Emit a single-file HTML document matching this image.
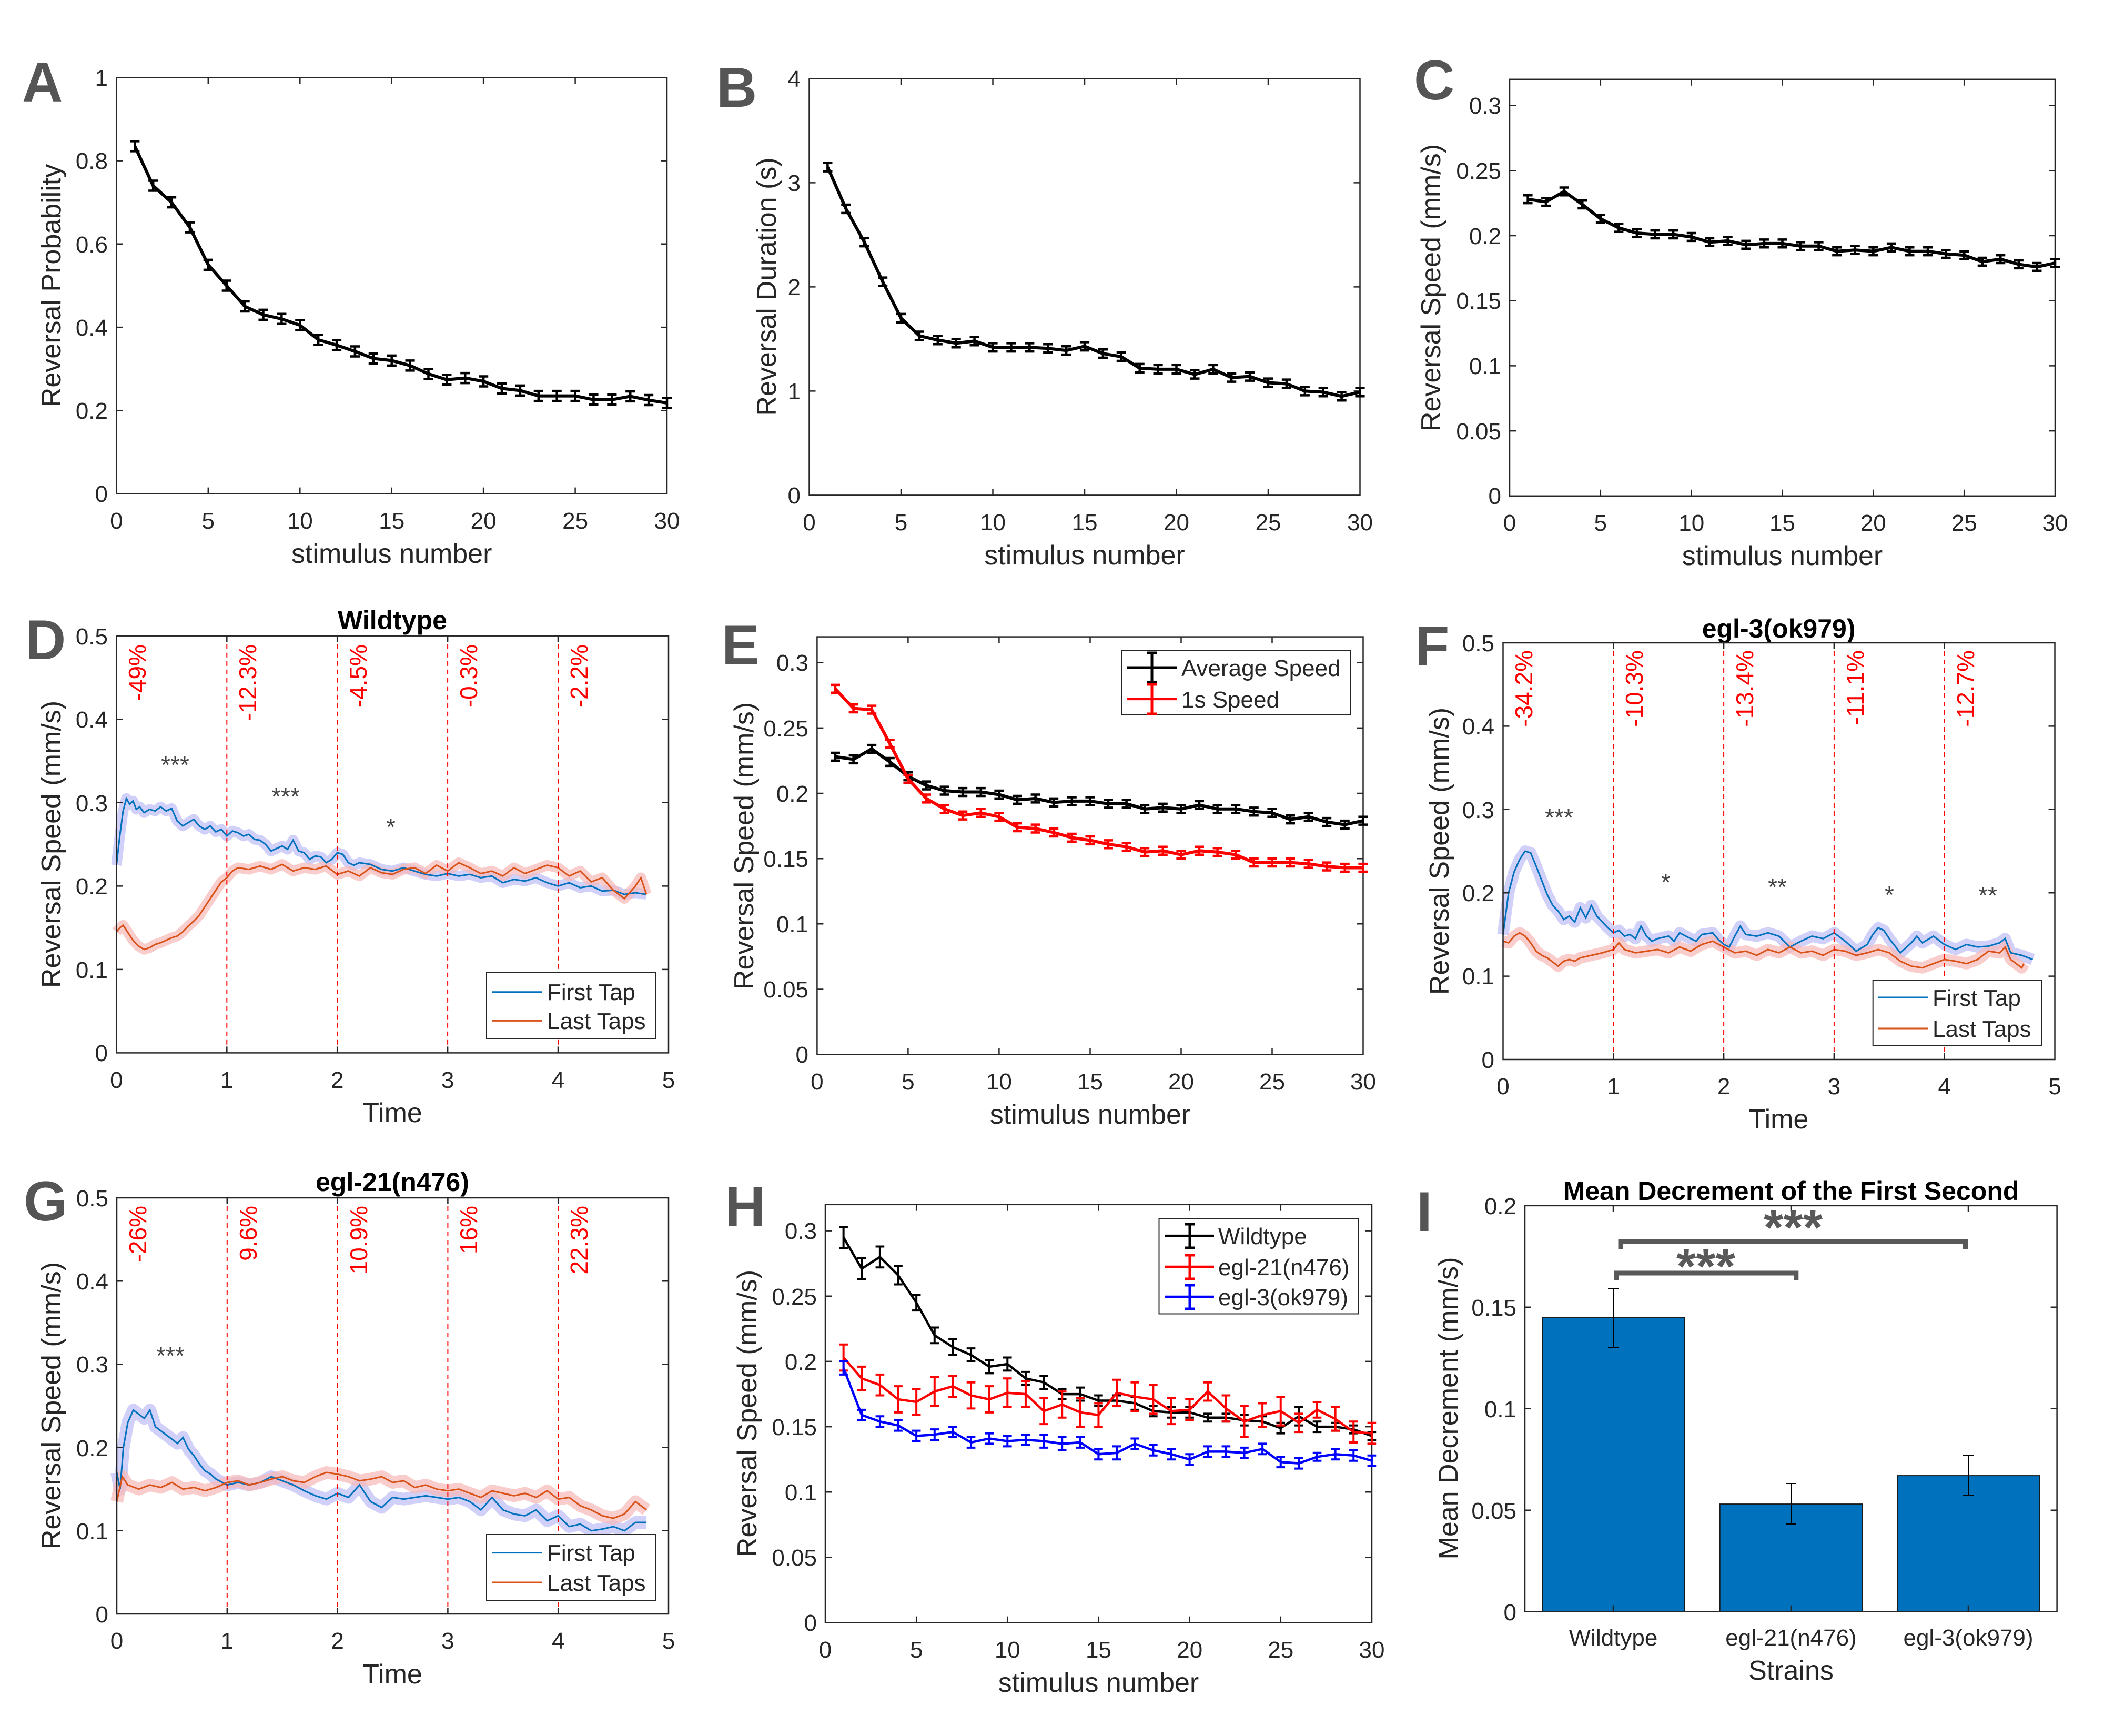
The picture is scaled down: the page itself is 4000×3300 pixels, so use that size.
<!DOCTYPE html>
<html><head><meta charset="utf-8"><style>
html,body{margin:0;padding:0;background:#fff}
svg{display:block}
text{font-family:"Liberation Sans",Arial,sans-serif}
.t{font-size:44px;fill:#262626}
.lab{font-size:52px;fill:#262626}
.ttl{font-size:50px;font-weight:bold;fill:#000}
.let{font-size:107px;font-weight:bold;fill:#555}
.pct{font-size:46px;fill:#f00}
.st{font-size:46px;fill:#444}
.ax{fill:none;stroke:#262626;stroke-width:2.5}
.ns{vector-effect:non-scaling-stroke;fill:none}
</style></head><body>
<svg width="4000" height="3300" xmlns="http://www.w3.org/2000/svg">
<rect width="4000" height="3300" fill="#fff"/>

<!-- ================= A ================= -->
<text class="let" x="42" y="193">A</text>
<rect class="ax" x="221.4" y="147.3" width="1046.6" height="791.3"/>
<path class="ax" d="M221.4,780.3h12M1268,780.3h-12M221.4,622.1h12M1268,622.1h-12M221.4,463.8h12M1268,463.8h-12M221.4,305.6h12M1268,305.6h-12M395.8,938.6v-12M395.8,147.3v12M570.3,938.6v-12M570.3,147.3v12M744.7,938.6v-12M744.7,147.3v12M919.1,938.6v-12M919.1,147.3v12M1093.6,938.6v-12M1093.6,147.3v12"/>
<g class="t" text-anchor="end"><text x="205" y="954">0</text><text x="205" y="796">0.2</text><text x="205" y="638">0.4</text><text x="205" y="480">0.6</text><text x="205" y="321">0.8</text><text x="205" y="163">1</text></g>
<g class="t" text-anchor="middle"><text x="221.4" y="1005">0</text><text x="395.8" y="1005">5</text><text x="570.3" y="1005">10</text><text x="744.7" y="1005">15</text><text x="919.1" y="1005">20</text><text x="1093.6" y="1005">25</text><text x="1268" y="1005">30</text></g>
<text class="lab" x="744.7" y="1070" text-anchor="middle">stimulus number</text>
<text class="lab" transform="translate(98,543) rotate(-90)" text-anchor="middle" dominant-baseline="central">Reversal Probability</text>
<g transform="translate(221.4,938.6) scale(34.887,-791.3)">
<polyline class="ns" stroke="#000" stroke-width="6" points="1,.835 2,.74 3,.70 4,.64 5,.55 6,.50 7,.45 8,.43 9,.42 10,.405 11,.37 12,.357 13,.342 14,.325 15,.32 16,.308 17,.288 18,.274 19,.278 20,.27 21,.253 22,.248 23,.235 24,.235 25,.235 26,.226 27,.226 28,.234 29,.225 30,.218"/>
<path class="ns" stroke="#000" stroke-width="4.5" d="M1,.835m-.26,.012h.52m-.26,0v-.024m-.26,0h.52M2,.74m-.26,.012h.52m-.26,0v-.024m-.26,0h.52M3,.70m-.26,.012h.52m-.26,0v-.024m-.26,0h.52M4,.64m-.26,.012h.52m-.26,0v-.024m-.26,0h.52M5,.55m-.26,.012h.52m-.26,0v-.024m-.26,0h.52M6,.50m-.26,.012h.52m-.26,0v-.024m-.26,0h.52M7,.45m-.26,.012h.52m-.26,0v-.024m-.26,0h.52M8,.43m-.26,.012h.52m-.26,0v-.024m-.26,0h.52M9,.42m-.26,.012h.52m-.26,0v-.024m-.26,0h.52M10,.405m-.26,.012h.52m-.26,0v-.024m-.26,0h.52M11,.37m-.26,.012h.52m-.26,0v-.024m-.26,0h.52M12,.357m-.26,.012h.52m-.26,0v-.024m-.26,0h.52M13,.342m-.26,.012h.52m-.26,0v-.024m-.26,0h.52M14,.325m-.26,.012h.52m-.26,0v-.024m-.26,0h.52M15,.32m-.26,.012h.52m-.26,0v-.024m-.26,0h.52M16,.308m-.26,.012h.52m-.26,0v-.024m-.26,0h.52M17,.288m-.26,.012h.52m-.26,0v-.024m-.26,0h.52M18,.274m-.26,.012h.52m-.26,0v-.024m-.26,0h.52M19,.278m-.26,.012h.52m-.26,0v-.024m-.26,0h.52M20,.27m-.26,.012h.52m-.26,0v-.024m-.26,0h.52M21,.253m-.26,.012h.52m-.26,0v-.024m-.26,0h.52M22,.248m-.26,.012h.52m-.26,0v-.024m-.26,0h.52M23,.235m-.26,.012h.52m-.26,0v-.024m-.26,0h.52M24,.235m-.26,.012h.52m-.26,0v-.024m-.26,0h.52M25,.235m-.26,.012h.52m-.26,0v-.024m-.26,0h.52M26,.226m-.26,.012h.52m-.26,0v-.024m-.26,0h.52M27,.226m-.26,.012h.52m-.26,0v-.024m-.26,0h.52M28,.234m-.26,.012h.52m-.26,0v-.024m-.26,0h.52M29,.225m-.26,.012h.52m-.26,0v-.024m-.26,0h.52M30,.218m-.26,.012h.52m-.26,0v-.024m-.26,0h.52"/>
</g>

<!-- ================= B ================= -->
<text class="let" x="1362" y="203">B</text>
<rect class="ax" x="1538.5" y="149.4" width="1047" height="792"/>
<path class="ax" d="M1538.5,743.4h12M2585.5,743.4h-12M1538.5,545.4h12M2585.5,545.4h-12M1538.5,347.4h12M2585.5,347.4h-12M1713,941.4v-12M1713,149.4v12M1887.5,941.4v-12M1887.5,149.4v12M2062,941.4v-12M2062,149.4v12M2236.5,941.4v-12M2236.5,149.4v12M2411,941.4v-12M2411,149.4v12"/>
<g class="t" text-anchor="end"><text x="1522" y="957">0</text><text x="1522" y="759">1</text><text x="1522" y="561">2</text><text x="1522" y="363">3</text><text x="1522" y="165">4</text></g>
<g class="t" text-anchor="middle"><text x="1538.5" y="1008">0</text><text x="1713" y="1008">5</text><text x="1887.5" y="1008">10</text><text x="2062" y="1008">15</text><text x="2236.5" y="1008">20</text><text x="2411" y="1008">25</text><text x="2585.5" y="1008">30</text></g>
<text class="lab" x="2062" y="1073" text-anchor="middle">stimulus number</text>
<text class="lab" transform="translate(1458,545) rotate(-90)" text-anchor="middle" dominant-baseline="central">Reversal Duration (s)</text>
<g transform="translate(1538.5,941.4) scale(34.9,-198)">
<polyline class="ns" stroke="#000" stroke-width="6" points="1,3.15 2,2.75 3,2.43 4,2.05 5,1.7 6,1.53 7,1.49 8,1.46 9,1.48 10,1.42 11,1.42 12,1.42 13,1.41 14,1.39 15,1.43 16,1.36 17,1.33 18,1.22 19,1.21 20,1.21 21,1.16 22,1.21 23,1.13 24,1.14 25,1.08 26,1.07 27,1.0 28,0.99 29,0.95 30,0.99"/>
<path class="ns" stroke="#000" stroke-width="4.5" d="M1,3.15m-.26,.04h.52m-.26,0v-.08m-.26,0h.52M2,2.75m-.26,.04h.52m-.26,0v-.08m-.26,0h.52M3,2.43m-.26,.04h.52m-.26,0v-.08m-.26,0h.52M4,2.05m-.26,.04h.52m-.26,0v-.08m-.26,0h.52M5,1.7m-.26,.04h.52m-.26,0v-.08m-.26,0h.52M6,1.53m-.26,.04h.52m-.26,0v-.08m-.26,0h.52M7,1.49m-.26,.04h.52m-.26,0v-.08m-.26,0h.52M8,1.46m-.26,.04h.52m-.26,0v-.08m-.26,0h.52M9,1.48m-.26,.04h.52m-.26,0v-.08m-.26,0h.52M10,1.42m-.26,.04h.52m-.26,0v-.08m-.26,0h.52M11,1.42m-.26,.04h.52m-.26,0v-.08m-.26,0h.52M12,1.42m-.26,.04h.52m-.26,0v-.08m-.26,0h.52M13,1.41m-.26,.04h.52m-.26,0v-.08m-.26,0h.52M14,1.39m-.26,.04h.52m-.26,0v-.08m-.26,0h.52M15,1.43m-.26,.04h.52m-.26,0v-.08m-.26,0h.52M16,1.36m-.26,.04h.52m-.26,0v-.08m-.26,0h.52M17,1.33m-.26,.04h.52m-.26,0v-.08m-.26,0h.52M18,1.22m-.26,.04h.52m-.26,0v-.08m-.26,0h.52M19,1.21m-.26,.04h.52m-.26,0v-.08m-.26,0h.52M20,1.21m-.26,.04h.52m-.26,0v-.08m-.26,0h.52M21,1.16m-.26,.04h.52m-.26,0v-.08m-.26,0h.52M22,1.21m-.26,.04h.52m-.26,0v-.08m-.26,0h.52M23,1.13m-.26,.04h.52m-.26,0v-.08m-.26,0h.52M24,1.14m-.26,.04h.52m-.26,0v-.08m-.26,0h.52M25,1.08m-.26,.04h.52m-.26,0v-.08m-.26,0h.52M26,1.07m-.26,.04h.52m-.26,0v-.08m-.26,0h.52M27,1.0m-.26,.04h.52m-.26,0v-.08m-.26,0h.52M28,.99m-.26,.04h.52m-.26,0v-.08m-.26,0h.52M29,.95m-.26,.04h.52m-.26,0v-.08m-.26,0h.52M30,.99m-.26,.04h.52m-.26,0v-.08m-.26,0h.52"/>
</g>

<!-- ================= C ================= -->
<text class="let" x="2688" y="189">C</text>
<rect class="ax" x="2870" y="150.8" width="1037" height="792"/>
<path class="ax" d="M2870,819.1h12M3907,819.1h-12M2870,695.4h12M3907,695.4h-12M2870,571.7h12M3907,571.7h-12M2870,448h12M3907,448h-12M2870,324.3h12M3907,324.3h-12M2870,200.6h12M3907,200.6h-12M3042.8,942.8v-12M3042.8,150.8v12M3215.7,942.8v-12M3215.7,150.8v12M3388.5,942.8v-12M3388.5,150.8v12M3561.3,942.8v-12M3561.3,150.8v12M3734.2,942.8v-12M3734.2,150.8v12"/>
<g class="t" text-anchor="end"><text x="2854" y="958">0</text><text x="2854" y="835">0.05</text><text x="2854" y="711">0.1</text><text x="2854" y="587">0.15</text><text x="2854" y="464">0.2</text><text x="2854" y="340">0.25</text><text x="2854" y="216">0.3</text></g>
<g class="t" text-anchor="middle"><text x="2870" y="1009">0</text><text x="3042.8" y="1009">5</text><text x="3215.7" y="1009">10</text><text x="3388.5" y="1009">15</text><text x="3561.3" y="1009">20</text><text x="3734.2" y="1009">25</text><text x="3907" y="1009">30</text></g>
<text class="lab" x="3388.5" y="1074" text-anchor="middle">stimulus number</text>
<text class="lab" transform="translate(2721,547) rotate(-90)" text-anchor="middle" dominant-baseline="central">Reversal Speed (mm/s)</text>
<g transform="translate(2870,942.8) scale(34.567,-2474)">
<polyline class="ns" stroke="#000" stroke-width="6" points="1,.228 2,.226 3,.234 4,.224 5,.213 6,.206 7,.202 8,.201 9,.201 10,.199 11,.195 12,.196 13,.193 14,.194 15,.194 16,.192 17,.192 18,.188 19,.189 20,.188 21,.191 22,.188 23,.188 24,.186 25,.185 26,.180 27,.182 28,.178 29,.176 30,.179"/>
<path class="ns" stroke="#000" stroke-width="4.5" d="M1,.228m-.26,.003h.52m-.26,0v-.006m-.26,0h.52M2,.226m-.26,.003h.52m-.26,0v-.006m-.26,0h.52M3,.234m-.26,.003h.52m-.26,0v-.006m-.26,0h.52M4,.224m-.26,.003h.52m-.26,0v-.006m-.26,0h.52M5,.213m-.26,.003h.52m-.26,0v-.006m-.26,0h.52M6,.206m-.26,.003h.52m-.26,0v-.006m-.26,0h.52M7,.202m-.26,.003h.52m-.26,0v-.006m-.26,0h.52M8,.201m-.26,.003h.52m-.26,0v-.006m-.26,0h.52M9,.201m-.26,.003h.52m-.26,0v-.006m-.26,0h.52M10,.199m-.26,.003h.52m-.26,0v-.006m-.26,0h.52M11,.195m-.26,.003h.52m-.26,0v-.006m-.26,0h.52M12,.196m-.26,.003h.52m-.26,0v-.006m-.26,0h.52M13,.193m-.26,.003h.52m-.26,0v-.006m-.26,0h.52M14,.194m-.26,.003h.52m-.26,0v-.006m-.26,0h.52M15,.194m-.26,.003h.52m-.26,0v-.006m-.26,0h.52M16,.192m-.26,.003h.52m-.26,0v-.006m-.26,0h.52M17,.192m-.26,.003h.52m-.26,0v-.006m-.26,0h.52M18,.188m-.26,.003h.52m-.26,0v-.006m-.26,0h.52M19,.189m-.26,.003h.52m-.26,0v-.006m-.26,0h.52M20,.188m-.26,.003h.52m-.26,0v-.006m-.26,0h.52M21,.191m-.26,.003h.52m-.26,0v-.006m-.26,0h.52M22,.188m-.26,.003h.52m-.26,0v-.006m-.26,0h.52M23,.188m-.26,.003h.52m-.26,0v-.006m-.26,0h.52M24,.186m-.26,.003h.52m-.26,0v-.006m-.26,0h.52M25,.185m-.26,.003h.52m-.26,0v-.006m-.26,0h.52M26,.180m-.26,.003h.52m-.26,0v-.006m-.26,0h.52M27,.182m-.26,.003h.52m-.26,0v-.006m-.26,0h.52M28,.178m-.26,.003h.52m-.26,0v-.006m-.26,0h.52M29,.176m-.26,.003h.52m-.26,0v-.006m-.26,0h.52M30,.179m-.26,.003h.52m-.26,0v-.006m-.26,0h.52"/>
</g>

<!-- ================= D ================= -->
<text class="let" x="48" y="1253">D</text>
<text class="ttl" x="746" y="1196" text-anchor="middle">Wildtype</text>
<g transform="translate(221.4,2001.4) scale(209.9,-1585.4)">
<polyline class="ns" stroke="#c8c8f8" stroke-opacity=".85" stroke-width="20" stroke-linejoin="round" points="0,.225 .03,.26 .06,.29 .09,.305 .12,.298 .15,.302 .18,.292 .21,.295 .25,.288 .3,.292 .35,.29 .4,.295 .45,.29 .5,.293 .55,.278 .6,.272 .65,.276 .7,.28 .75,.272 .8,.268 .85,.272 .9,.265 .95,.268 1,.26 1.05,.266 1.1,.264 1.15,.26 1.2,.262 1.25,.256 1.3,.255 1.35,.25 1.4,.242 1.45,.245 1.5,.248 1.55,.244 1.6,.255 1.65,.242 1.7,.24 1.75,.232 1.8,.236 1.85,.235 1.9,.228 1.95,.232 2,.24 2.05,.238 2.1,.228 2.15,.225 2.2,.228 2.3,.226 2.4,.22 2.5,.218 2.6,.222 2.7,.218 2.8,.214 2.9,.212 3,.215 3.1,.212 3.2,.214 3.3,.21 3.4,.212 3.5,.204 3.6,.208 3.7,.206 3.8,.21 3.9,.204 4,.2 4.1,.204 4.2,.198 4.3,.2 4.4,.194 4.5,.195 4.6,.19 4.7,.192 4.8,.19"/>
<polyline class="ns" stroke="#f8b8b8" stroke-opacity=".7" stroke-width="20" stroke-linejoin="round" points="0,.145 .03,.15 .06,.153 .1,.145 .15,.135 .2,.128 .25,.124 .3,.126 .35,.13 .4,.132 .45,.135 .5,.138 .55,.14 .6,.145 .65,.152 .7,.158 .75,.165 .8,.175 .85,.185 .9,.195 .95,.205 1,.21 1.05,.218 1.1,.222 1.2,.22 1.3,.224 1.4,.22 1.5,.226 1.6,.218 1.7,.222 1.8,.22 1.9,.224 2,.214 2.1,.218 2.2,.212 2.3,.222 2.4,.216 2.5,.214 2.6,.22 2.7,.222 2.8,.215 2.9,.225 3,.218 3.1,.228 3.2,.222 3.3,.215 3.4,.218 3.5,.212 3.6,.222 3.7,.215 3.8,.22 3.9,.225 4,.222 4.1,.212 4.2,.218 4.3,.205 4.4,.21 4.5,.195 4.6,.185 4.7,.2 4.75,.21 4.8,.19"/>
<polyline class="ns" stroke="#0072BD" stroke-width="3" points="0,.225 .03,.26 .06,.29 .09,.305 .12,.298 .15,.302 .18,.292 .21,.295 .25,.288 .3,.292 .35,.29 .4,.295 .45,.29 .5,.293 .55,.278 .6,.272 .65,.276 .7,.28 .75,.272 .8,.268 .85,.272 .9,.265 .95,.268 1,.26 1.05,.266 1.1,.264 1.15,.26 1.2,.262 1.25,.256 1.3,.255 1.35,.25 1.4,.242 1.45,.245 1.5,.248 1.55,.244 1.6,.255 1.65,.242 1.7,.24 1.75,.232 1.8,.236 1.85,.235 1.9,.228 1.95,.232 2,.24 2.05,.238 2.1,.228 2.15,.225 2.2,.228 2.3,.226 2.4,.22 2.5,.218 2.6,.222 2.7,.218 2.8,.214 2.9,.212 3,.215 3.1,.212 3.2,.214 3.3,.21 3.4,.212 3.5,.204 3.6,.208 3.7,.206 3.8,.21 3.9,.204 4,.2 4.1,.204 4.2,.198 4.3,.2 4.4,.194 4.5,.195 4.6,.19 4.7,.192 4.8,.19"/>
<polyline class="ns" stroke="#D95319" stroke-width="3" points="0,.145 .03,.15 .06,.153 .1,.145 .15,.135 .2,.128 .25,.124 .3,.126 .35,.13 .4,.132 .45,.135 .5,.138 .55,.14 .6,.145 .65,.152 .7,.158 .75,.165 .8,.175 .85,.185 .9,.195 .95,.205 1,.21 1.05,.218 1.1,.222 1.2,.22 1.3,.224 1.4,.22 1.5,.226 1.6,.218 1.7,.222 1.8,.22 1.9,.224 2,.214 2.1,.218 2.2,.212 2.3,.222 2.4,.216 2.5,.214 2.6,.22 2.7,.222 2.8,.215 2.9,.225 3,.218 3.1,.228 3.2,.222 3.3,.215 3.4,.218 3.5,.212 3.6,.222 3.7,.215 3.8,.22 3.9,.225 4,.222 4.1,.212 4.2,.218 4.3,.205 4.4,.21 4.5,.195 4.6,.185 4.7,.2 4.75,.21 4.8,.19"/>
</g>
<path d="M221.4,1208.7V2001.4M431.3,1208.7V2001.4M641.2,1208.7V2001.4M851.1,1208.7V2001.4M1061,1208.7V2001.4" stroke="#f00" stroke-width="2" stroke-dasharray="9,7" fill="none"/>
<rect class="ax" x="221.4" y="1208.7" width="1049.6" height="792.7"/>
<path class="ax" d="M221.4,1842.9h12M1271,1842.9h-12M221.4,1684.4h12M1271,1684.4h-12M221.4,1525.8h12M1271,1525.8h-12M221.4,1367.3h12M1271,1367.3h-12M431.3,2001.4v-12M431.3,1208.7v12M641.2,2001.4v-12M641.2,1208.7v12M851.1,2001.4v-12M851.1,1208.7v12M1061,2001.4v-12M1061,1208.7v12"/>
<g class="t" text-anchor="end"><text x="205" y="2017">0</text><text x="205" y="1859">0.1</text><text x="205" y="1700">0.2</text><text x="205" y="1542">0.3</text><text x="205" y="1383">0.4</text><text x="205" y="1225">0.5</text></g>
<g class="t" text-anchor="middle"><text x="221.4" y="2068">0</text><text x="431.3" y="2068">1</text><text x="641.2" y="2068">2</text><text x="851.1" y="2068">3</text><text x="1061" y="2068">4</text><text x="1271" y="2068">5</text></g>
<text class="lab" x="746" y="2133" text-anchor="middle">Time</text>
<text class="lab" transform="translate(98,1605) rotate(-90)" text-anchor="middle" dominant-baseline="central">Reversal Speed (mm/s)</text>
<g class="pct" text-anchor="end" dominant-baseline="central"><text transform="translate(261,1225) rotate(-90)">-49%</text><text transform="translate(471,1225) rotate(-90)">-12.3%</text><text transform="translate(681,1225) rotate(-90)">-4.5%</text><text transform="translate(891,1225) rotate(-90)">-0.3%</text><text transform="translate(1101,1225) rotate(-90)">-2.2%</text></g>
<g class="st" text-anchor="middle"><text x="333" y="1470">***</text><text x="543" y="1530">***</text><text x="743" y="1588">*</text></g>
<rect x="925" y="1849" width="321" height="125" fill="#fff" stroke="#262626" stroke-width="2"/>
<path d="M936,1885.7h95" stroke="#0072BD" stroke-width="3"/><path d="M936,1940.4h95" stroke="#D95319" stroke-width="3"/>
<g class="t"><text x="1040" y="1901">First Tap</text><text x="1040" y="1956">Last Taps</text></g>

<!-- ================= E ================= -->
<text class="let" x="1372" y="1263">E</text>
<rect class="ax" x="1553.4" y="1210.6" width="1038.1" height="794"/>
<path class="ax" d="M1553.4,1880.5h12M2591.5,1880.5h-12M1553.4,1756.3h12M2591.5,1756.3h-12M1553.4,1632.2h12M2591.5,1632.2h-12M1553.4,1508h12M2591.5,1508h-12M1553.4,1383.9h12M2591.5,1383.9h-12M1553.4,1259.7h12M2591.5,1259.7h-12M1726.4,2004.6v-12M1726.4,1210.6v12M1899.4,2004.6v-12M1899.4,1210.6v12M2072.5,2004.6v-12M2072.5,1210.6v12M2245.5,2004.6v-12M2245.5,1210.6v12M2418.5,2004.6v-12M2418.5,1210.6v12"/>
<g class="t" text-anchor="end"><text x="1537" y="2020">0</text><text x="1537" y="1896">0.05</text><text x="1537" y="1772">0.1</text><text x="1537" y="1648">0.15</text><text x="1537" y="1524">0.2</text><text x="1537" y="1400">0.25</text><text x="1537" y="1275">0.3</text></g>
<g class="t" text-anchor="middle"><text x="1553.4" y="2071">0</text><text x="1726.4" y="2071">5</text><text x="1899.4" y="2071">10</text><text x="2072.5" y="2071">15</text><text x="2245.5" y="2071">20</text><text x="2418.5" y="2071">25</text><text x="2591.5" y="2071">30</text></g>
<text class="lab" x="2072.5" y="2136" text-anchor="middle">stimulus number</text>
<text class="lab" transform="translate(1415,1608) rotate(-90)" text-anchor="middle" dominant-baseline="central">Reversal Speed (mm/s)</text>
<g transform="translate(1553.4,2004.6) scale(34.6,-2483)">
<polyline class="ns" stroke="#000" stroke-width="6" points="1,.228 2,.226 3,.234 4,.224 5,.213 6,.206 7,.202 8,.201 9,.201 10,.199 11,.195 12,.196 13,.193 14,.194 15,.194 16,.192 17,.192 18,.188 19,.189 20,.188 21,.191 22,.188 23,.188 24,.186 25,.185 26,.180 27,.182 28,.178 29,.176 30,.179"/>
<path class="ns" stroke="#000" stroke-width="4.5" d="M1,.228m-.26,.003h.52m-.26,0v-.006m-.26,0h.52M2,.226m-.26,.003h.52m-.26,0v-.006m-.26,0h.52M3,.234m-.26,.003h.52m-.26,0v-.006m-.26,0h.52M4,.224m-.26,.003h.52m-.26,0v-.006m-.26,0h.52M5,.213m-.26,.003h.52m-.26,0v-.006m-.26,0h.52M6,.206m-.26,.003h.52m-.26,0v-.006m-.26,0h.52M7,.202m-.26,.003h.52m-.26,0v-.006m-.26,0h.52M8,.201m-.26,.003h.52m-.26,0v-.006m-.26,0h.52M9,.201m-.26,.003h.52m-.26,0v-.006m-.26,0h.52M10,.199m-.26,.003h.52m-.26,0v-.006m-.26,0h.52M11,.195m-.26,.003h.52m-.26,0v-.006m-.26,0h.52M12,.196m-.26,.003h.52m-.26,0v-.006m-.26,0h.52M13,.193m-.26,.003h.52m-.26,0v-.006m-.26,0h.52M14,.194m-.26,.003h.52m-.26,0v-.006m-.26,0h.52M15,.194m-.26,.003h.52m-.26,0v-.006m-.26,0h.52M16,.192m-.26,.003h.52m-.26,0v-.006m-.26,0h.52M17,.192m-.26,.003h.52m-.26,0v-.006m-.26,0h.52M18,.188m-.26,.003h.52m-.26,0v-.006m-.26,0h.52M19,.189m-.26,.003h.52m-.26,0v-.006m-.26,0h.52M20,.188m-.26,.003h.52m-.26,0v-.006m-.26,0h.52M21,.191m-.26,.003h.52m-.26,0v-.006m-.26,0h.52M22,.188m-.26,.003h.52m-.26,0v-.006m-.26,0h.52M23,.188m-.26,.003h.52m-.26,0v-.006m-.26,0h.52M24,.186m-.26,.003h.52m-.26,0v-.006m-.26,0h.52M25,.185m-.26,.003h.52m-.26,0v-.006m-.26,0h.52M26,.180m-.26,.003h.52m-.26,0v-.006m-.26,0h.52M27,.182m-.26,.003h.52m-.26,0v-.006m-.26,0h.52M28,.178m-.26,.003h.52m-.26,0v-.006m-.26,0h.52M29,.176m-.26,.003h.52m-.26,0v-.006m-.26,0h.52M30,.179m-.26,.003h.52m-.26,0v-.006m-.26,0h.52"/>
<polyline class="ns" stroke="#f00" stroke-width="6" points="1,.280 2,.265 3,.264 4,.238 5,.211 6,.196 7,.188 8,.183 9,.185 10,.182 11,.174 12,.173 13,.170 14,.166 15,.164 16,.161 17,.159 18,.155 19,.156 20,.153 21,.156 22,.155 23,.153 24,.147 25,.147 26,.147 27,.146 28,.144 29,.143 30,.143"/>
<path class="ns" stroke="#f00" stroke-width="4.5" d="M1,.280m-.26,.003h.52m-.26,0v-.006m-.26,0h.52M2,.265m-.26,.003h.52m-.26,0v-.006m-.26,0h.52M3,.264m-.26,.003h.52m-.26,0v-.006m-.26,0h.52M4,.238m-.26,.003h.52m-.26,0v-.006m-.26,0h.52M5,.211m-.26,.003h.52m-.26,0v-.006m-.26,0h.52M6,.196m-.26,.003h.52m-.26,0v-.006m-.26,0h.52M7,.188m-.26,.003h.52m-.26,0v-.006m-.26,0h.52M8,.183m-.26,.003h.52m-.26,0v-.006m-.26,0h.52M9,.185m-.26,.003h.52m-.26,0v-.006m-.26,0h.52M10,.182m-.26,.003h.52m-.26,0v-.006m-.26,0h.52M11,.174m-.26,.003h.52m-.26,0v-.006m-.26,0h.52M12,.173m-.26,.003h.52m-.26,0v-.006m-.26,0h.52M13,.170m-.26,.003h.52m-.26,0v-.006m-.26,0h.52M14,.166m-.26,.003h.52m-.26,0v-.006m-.26,0h.52M15,.164m-.26,.003h.52m-.26,0v-.006m-.26,0h.52M16,.161m-.26,.003h.52m-.26,0v-.006m-.26,0h.52M17,.159m-.26,.003h.52m-.26,0v-.006m-.26,0h.52M18,.155m-.26,.003h.52m-.26,0v-.006m-.26,0h.52M19,.156m-.26,.003h.52m-.26,0v-.006m-.26,0h.52M20,.153m-.26,.003h.52m-.26,0v-.006m-.26,0h.52M21,.156m-.26,.003h.52m-.26,0v-.006m-.26,0h.52M22,.155m-.26,.003h.52m-.26,0v-.006m-.26,0h.52M23,.153m-.26,.003h.52m-.26,0v-.006m-.26,0h.52M24,.147m-.26,.003h.52m-.26,0v-.006m-.26,0h.52M25,.147m-.26,.003h.52m-.26,0v-.006m-.26,0h.52M26,.147m-.26,.003h.52m-.26,0v-.006m-.26,0h.52M27,.146m-.26,.003h.52m-.26,0v-.006m-.26,0h.52M28,.144m-.26,.003h.52m-.26,0v-.006m-.26,0h.52M29,.143m-.26,.003h.52m-.26,0v-.006m-.26,0h.52M30,.143m-.26,.003h.52m-.26,0v-.006m-.26,0h.52"/>
</g>
<rect x="2132" y="1236" width="435" height="123" fill="#fff" stroke="#262626" stroke-width="2"/>
<path d="M2142,1269h95M2190,1241v56M2180,1241h20M2180,1297h20" stroke="#000" stroke-width="5" fill="none"/>
<path d="M2142,1328.6h95M2190,1301v56M2180,1301h20M2180,1357h20" stroke="#f00" stroke-width="5" fill="none"/>
<g class="t"><text x="2246" y="1285">Average Speed</text><text x="2246" y="1345">1s Speed</text></g>

<!-- ================= F ================= -->
<text class="let" x="2690" y="1265">F</text>
<text class="ttl" x="3381.6" y="1212" text-anchor="middle">egl-3(ok979)</text>
<g transform="translate(2857.5,2014) scale(209.8,-1584)">
<polyline class="ns" stroke="#c8c8f8" stroke-opacity=".85" stroke-width="22" stroke-linejoin="round" points="0,.15 .05,.2 .1,.225 .15,.24 .2,.25 .25,.248 .3,.232 .35,.215 .4,.198 .45,.185 .5,.178 .55,.168 .6,.172 .65,.165 .7,.182 .75,.17 .8,.185 .85,.172 .9,.165 .95,.158 1,.152 1.05,.155 1.1,.148 1.15,.15 1.2,.145 1.25,.16 1.3,.148 1.35,.142 1.4,.145 1.5,.148 1.55,.142 1.6,.152 1.7,.145 1.75,.142 1.8,.15 1.9,.152 1.95,.144 2,.138 2.05,.135 2.1,.148 2.15,.16 2.2,.15 2.3,.148 2.4,.152 2.5,.148 2.6,.135 2.7,.142 2.8,.148 2.9,.145 3,.152 3.1,.142 3.2,.13 3.3,.138 3.35,.15 3.4,.158 3.45,.155 3.5,.145 3.6,.128 3.7,.14 3.75,.148 3.8,.14 3.9,.148 4,.138 4.1,.132 4.2,.138 4.3,.135 4.4,.136 4.5,.14 4.55,.145 4.6,.128 4.7,.125 4.8,.12"/>
<polyline class="ns" stroke="#f8b8b8" stroke-opacity=".7" stroke-width="22" stroke-linejoin="round" points="0,.142 .05,.14 .1,.148 .15,.152 .2,.148 .25,.14 .3,.13 .35,.125 .4,.122 .5,.112 .55,.118 .6,.12 .65,.118 .7,.122 .8,.125 .9,.128 1,.132 1.05,.14 1.1,.132 1.2,.128 1.3,.13 1.4,.132 1.5,.128 1.6,.135 1.7,.13 1.8,.138 1.9,.142 2,.135 2.1,.128 2.2,.13 2.3,.125 2.4,.132 2.5,.128 2.6,.135 2.7,.128 2.8,.13 2.9,.125 3,.132 3.1,.13 3.2,.125 3.3,.128 3.4,.132 3.5,.128 3.6,.118 3.7,.112 3.8,.11 3.9,.115 4,.12 4.1,.118 4.2,.115 4.3,.12 4.4,.13 4.5,.128 4.55,.135 4.6,.12 4.7,.11 4.72,.115"/>
<polyline class="ns" stroke="#0072BD" stroke-width="3" points="0,.15 .05,.2 .1,.225 .15,.24 .2,.25 .25,.248 .3,.232 .35,.215 .4,.198 .45,.185 .5,.178 .55,.168 .6,.172 .65,.165 .7,.182 .75,.17 .8,.185 .85,.172 .9,.165 .95,.158 1,.152 1.05,.155 1.1,.148 1.15,.15 1.2,.145 1.25,.16 1.3,.148 1.35,.142 1.4,.145 1.5,.148 1.55,.142 1.6,.152 1.7,.145 1.75,.142 1.8,.15 1.9,.152 1.95,.144 2,.138 2.05,.135 2.1,.148 2.15,.16 2.2,.15 2.3,.148 2.4,.152 2.5,.148 2.6,.135 2.7,.142 2.8,.148 2.9,.145 3,.152 3.1,.142 3.2,.13 3.3,.138 3.35,.15 3.4,.158 3.45,.155 3.5,.145 3.6,.128 3.7,.14 3.75,.148 3.8,.14 3.9,.148 4,.138 4.1,.132 4.2,.138 4.3,.135 4.4,.136 4.5,.14 4.55,.145 4.6,.128 4.7,.125 4.8,.12"/>
<polyline class="ns" stroke="#D95319" stroke-width="3" points="0,.142 .05,.14 .1,.148 .15,.152 .2,.148 .25,.14 .3,.13 .35,.125 .4,.122 .5,.112 .55,.118 .6,.12 .65,.118 .7,.122 .8,.125 .9,.128 1,.132 1.05,.14 1.1,.132 1.2,.128 1.3,.13 1.4,.132 1.5,.128 1.6,.135 1.7,.13 1.8,.138 1.9,.142 2,.135 2.1,.128 2.2,.13 2.3,.125 2.4,.132 2.5,.128 2.6,.135 2.7,.128 2.8,.13 2.9,.125 3,.132 3.1,.13 3.2,.125 3.3,.128 3.4,.132 3.5,.128 3.6,.118 3.7,.112 3.8,.11 3.9,.115 4,.12 4.1,.118 4.2,.115 4.3,.12 4.4,.13 4.5,.128 4.55,.135 4.6,.12 4.7,.11 4.72,.115"/>
</g>
<path d="M2857.5,1222V2014M3067.3,1222V2014M3277.1,1222V2014M3486.9,1222V2014M3696.7,1222V2014" stroke="#f00" stroke-width="2" stroke-dasharray="9,7" fill="none"/>
<rect class="ax" x="2857.5" y="1222" width="1049" height="792"/>
<path class="ax" d="M2857.5,1855.6h12M3906.5,1855.6h-12M2857.5,1697.2h12M3906.5,1697.2h-12M2857.5,1538.8h12M3906.5,1538.8h-12M2857.5,1380.4h12M3906.5,1380.4h-12M3067.3,2014v-12M3067.3,1222v12M3277.1,2014v-12M3277.1,1222v12M3486.9,2014v-12M3486.9,1222v12M3696.7,2014v-12M3696.7,1222v12"/>
<g class="t" text-anchor="end"><text x="2841" y="2030">0</text><text x="2841" y="1871">0.1</text><text x="2841" y="1713">0.2</text><text x="2841" y="1555">0.3</text><text x="2841" y="1396">0.4</text><text x="2841" y="1238">0.5</text></g>
<g class="t" text-anchor="middle"><text x="2857.5" y="2080">0</text><text x="3067.3" y="2080">1</text><text x="3277.1" y="2080">2</text><text x="3486.9" y="2080">3</text><text x="3696.7" y="2080">4</text><text x="3906.5" y="2080">5</text></g>
<text class="lab" x="3381.6" y="2145" text-anchor="middle">Time</text>
<text class="lab" transform="translate(2737,1618) rotate(-90)" text-anchor="middle" dominant-baseline="central">Reversal Speed (mm/s)</text>
<g class="pct" text-anchor="end" dominant-baseline="central"><text transform="translate(2897,1236) rotate(-90)">-34.2%</text><text transform="translate(3107,1236) rotate(-90)">-10.3%</text><text transform="translate(3317,1236) rotate(-90)">-13.4%</text><text transform="translate(3527,1236) rotate(-90)">-11.1%</text><text transform="translate(3737,1236) rotate(-90)">-12.7%</text></g>
<g class="st" text-anchor="middle"><text x="2964" y="1570">***</text><text x="3167" y="1693">*</text><text x="3379" y="1702">**</text><text x="3592" y="1717">*</text><text x="3779" y="1718">**</text></g>
<rect x="3560.7" y="1863" width="321" height="124" fill="#fff" stroke="#262626" stroke-width="2"/>
<path d="M3570.6,1896h95" stroke="#0072BD" stroke-width="3"/><path d="M3570.6,1955h95" stroke="#D95319" stroke-width="3"/>
<g class="t"><text x="3674" y="1912">First Tap</text><text x="3674" y="1971">Last Taps</text></g>

<!-- ================= G ================= -->
<text class="let" x="45" y="2320">G</text>
<text class="ttl" x="746" y="2264" text-anchor="middle">egl-21(n476)</text>
<g transform="translate(222,3068) scale(209.8,-1582)">
<polyline class="ns" stroke="#c8c8f8" stroke-opacity=".85" stroke-width="24" stroke-linejoin="round" points="0,.17 .03,.15 .06,.2 .1,.23 .15,.245 .2,.24 .25,.235 .3,.245 .35,.225 .4,.22 .45,.215 .5,.21 .55,.205 .6,.212 .65,.198 .7,.19 .75,.18 .8,.172 .85,.168 .9,.162 1,.155 1.1,.158 1.2,.155 1.3,.158 1.4,.165 1.5,.16 1.6,.155 1.7,.148 1.8,.142 1.9,.138 2,.145 2.1,.14 2.2,.155 2.3,.135 2.4,.128 2.5,.14 2.6,.138 2.7,.14 2.8,.142 2.9,.14 3,.138 3.1,.14 3.2,.135 3.3,.125 3.4,.14 3.5,.125 3.6,.12 3.7,.118 3.8,.125 3.9,.112 4,.118 4.1,.105 4.2,.108 4.3,.1 4.4,.102 4.5,.105 4.6,.1 4.7,.11 4.8,.11"/>
<polyline class="ns" stroke="#f8b8b8" stroke-opacity=".7" stroke-width="24" stroke-linejoin="round" points="0,.135 .05,.165 .1,.155 .2,.15 .3,.155 .4,.152 .5,.158 .6,.15 .7,.152 .8,.148 .9,.152 1,.158 1.1,.16 1.2,.155 1.3,.158 1.4,.162 1.5,.165 1.6,.16 1.7,.158 1.8,.165 1.9,.17 2,.168 2.1,.165 2.2,.16 2.3,.162 2.4,.165 2.5,.158 2.6,.16 2.7,.152 2.8,.155 2.9,.15 3,.148 3.1,.15 3.2,.145 3.3,.14 3.4,.148 3.5,.145 3.6,.142 3.7,.145 3.8,.14 3.9,.148 4,.138 4.1,.14 4.2,.13 4.3,.125 4.4,.118 4.5,.115 4.6,.12 4.7,.135 4.8,.125"/>
<polyline class="ns" stroke="#0072BD" stroke-width="3" points="0,.17 .03,.15 .06,.2 .1,.23 .15,.245 .2,.24 .25,.235 .3,.245 .35,.225 .4,.22 .45,.215 .5,.21 .55,.205 .6,.212 .65,.198 .7,.19 .75,.18 .8,.172 .85,.168 .9,.162 1,.155 1.1,.158 1.2,.155 1.3,.158 1.4,.165 1.5,.16 1.6,.155 1.7,.148 1.8,.142 1.9,.138 2,.145 2.1,.14 2.2,.155 2.3,.135 2.4,.128 2.5,.14 2.6,.138 2.7,.14 2.8,.142 2.9,.14 3,.138 3.1,.14 3.2,.135 3.3,.125 3.4,.14 3.5,.125 3.6,.12 3.7,.118 3.8,.125 3.9,.112 4,.118 4.1,.105 4.2,.108 4.3,.1 4.4,.102 4.5,.105 4.6,.1 4.7,.11 4.8,.11"/>
<polyline class="ns" stroke="#D95319" stroke-width="3" points="0,.135 .05,.165 .1,.155 .2,.15 .3,.155 .4,.152 .5,.158 .6,.15 .7,.152 .8,.148 .9,.152 1,.158 1.1,.16 1.2,.155 1.3,.158 1.4,.162 1.5,.165 1.6,.16 1.7,.158 1.8,.165 1.9,.17 2,.168 2.1,.165 2.2,.16 2.3,.162 2.4,.165 2.5,.158 2.6,.16 2.7,.152 2.8,.155 2.9,.15 3,.148 3.1,.15 3.2,.145 3.3,.14 3.4,.148 3.5,.145 3.6,.142 3.7,.145 3.8,.14 3.9,.148 4,.138 4.1,.14 4.2,.13 4.3,.125 4.4,.118 4.5,.115 4.6,.12 4.7,.135 4.8,.125"/>
</g>
<path d="M222,2277V3068M431.8,2277V3068M641.6,2277V3068M851.4,2277V3068M1061.2,2277V3068" stroke="#f00" stroke-width="2" stroke-dasharray="9,7" fill="none"/>
<rect class="ax" x="222" y="2277" width="1049" height="791"/>
<path class="ax" d="M222,2909.8h12M1271,2909.8h-12M222,2751.6h12M1271,2751.6h-12M222,2593.4h12M1271,2593.4h-12M222,2435.2h12M1271,2435.2h-12M431.8,3068v-12M431.8,2277v12M641.6,3068v-12M641.6,2277v12M851.4,3068v-12M851.4,2277v12M1061.2,3068v-12M1061.2,2277v12"/>
<g class="t" text-anchor="end"><text x="206" y="3084">0</text><text x="206" y="2926">0.1</text><text x="206" y="2768">0.2</text><text x="206" y="2609">0.3</text><text x="206" y="2451">0.4</text><text x="206" y="2293">0.5</text></g>
<g class="t" text-anchor="middle"><text x="222" y="3134">0</text><text x="431.8" y="3134">1</text><text x="641.6" y="3134">2</text><text x="851.4" y="3134">3</text><text x="1061.2" y="3134">4</text><text x="1271" y="3134">5</text></g>
<text class="lab" x="746" y="3200" text-anchor="middle">Time</text>
<text class="lab" transform="translate(98,2672) rotate(-90)" text-anchor="middle" dominant-baseline="central">Reversal Speed (mm/s)</text>
<g class="pct" text-anchor="end" dominant-baseline="central"><text transform="translate(262,2292) rotate(-90)">-26%</text><text transform="translate(472,2292) rotate(-90)">9.6%</text><text transform="translate(682,2292) rotate(-90)">10.9%</text><text transform="translate(891,2292) rotate(-90)">16%</text><text transform="translate(1101,2292) rotate(-90)">22.3%</text></g>
<g class="st" text-anchor="middle"><text x="324" y="2593">***</text></g>
<rect x="925" y="2917" width="321" height="125" fill="#fff" stroke="#262626" stroke-width="2"/>
<path d="M936,2951.6h95" stroke="#0072BD" stroke-width="3"/><path d="M936,3008h95" stroke="#D95319" stroke-width="3"/>
<g class="t"><text x="1040" y="2967">First Tap</text><text x="1040" y="3024">Last Taps</text></g>

<!-- ================= H ================= -->
<text class="let" x="1378" y="2330">H</text>
<rect class="ax" x="1569" y="2289.8" width="1039" height="794.8"/>
<path class="ax" d="M1569,2960.4h12M2608,2960.4h-12M1569,2836.3h12M2608,2836.3h-12M1569,2712.1h12M2608,2712.1h-12M1569,2587.9h12M2608,2587.9h-12M1569,2463.8h12M2608,2463.8h-12M1569,2339.6h12M2608,2339.6h-12M1742.2,3084.6v-12M1742.2,2289.8v12M1915.3,3084.6v-12M1915.3,2289.8v12M2088.5,3084.6v-12M2088.5,2289.8v12M2261.7,3084.6v-12M2261.7,2289.8v12M2434.8,3084.6v-12M2434.8,2289.8v12"/>
<g class="t" text-anchor="end"><text x="1553" y="3100">0</text><text x="1553" y="2976">0.05</text><text x="1553" y="2852">0.1</text><text x="1553" y="2728">0.15</text><text x="1553" y="2604">0.2</text><text x="1553" y="2480">0.25</text><text x="1553" y="2355">0.3</text></g>
<g class="t" text-anchor="middle"><text x="1569" y="3151">0</text><text x="1742.2" y="3151">5</text><text x="1915.3" y="3151">10</text><text x="2088.5" y="3151">15</text><text x="2261.7" y="3151">20</text><text x="2434.8" y="3151">25</text><text x="2608" y="3151">30</text></g>
<text class="lab" x="2088.5" y="3216" text-anchor="middle">stimulus number</text>
<text class="lab" transform="translate(1421,2687) rotate(-90)" text-anchor="middle" dominant-baseline="central">Reversal Speed (mm/s)</text>
<g transform="translate(1569,3084.6) scale(34.63,-2483)">
<polyline class="ns" stroke="#000" stroke-width="4.5" points="1,.295 2,.271 3,.280 4,.266 5,.245 6,.220 7,.211 8,.205 9,.196 10,.198 11,.187 12,.184 13,.175 14,.175 15,.170 16,.170 17,.168 18,.162 19,.161 20,.161 21,.157 22,.157 23,.155 24,.154 25,.149 26,.158 27,.150 28,.150 29,.148 30,.143"/>
<path class="ns" stroke="#000" stroke-width="4" d="M1,.295m-.24,.008h.48m-.24,0v-.016m-.24,0h.48M2,.271m-.24,.008h.48m-.24,0v-.016m-.24,0h.48M3,.280m-.24,.008h.48m-.24,0v-.016m-.24,0h.48M4,.266m-.24,.007h.48m-.24,0v-.014m-.24,0h.48M5,.245m-.24,.006h.48m-.24,0v-.012m-.24,0h.48M6,.220m-.24,.006h.48m-.24,0v-.012m-.24,0h.48M7,.211m-.24,.006h.48m-.24,0v-.012m-.24,0h.48M8,.205m-.24,.005h.48m-.24,0v-.010m-.24,0h.48M9,.196m-.24,.005h.48m-.24,0v-.010m-.24,0h.48M10,.198m-.24,.005h.48m-.24,0v-.010m-.24,0h.48M11,.187m-.24,.005h.48m-.24,0v-.010m-.24,0h.48M12,.184m-.24,.005h.48m-.24,0v-.010m-.24,0h.48M13,.175m-.24,.004h.48m-.24,0v-.008m-.24,0h.48M14,.175m-.24,.005h.48m-.24,0v-.010m-.24,0h.48M15,.170m-.24,.004h.48m-.24,0v-.008m-.24,0h.48M16,.170m-.24,.004h.48m-.24,0v-.008m-.24,0h.48M17,.168m-.24,.005h.48m-.24,0v-.010m-.24,0h.48M18,.162m-.24,.004h.48m-.24,0v-.008m-.24,0h.48M19,.161m-.24,.004h.48m-.24,0v-.008m-.24,0h.48M20,.161m-.24,.004h.48m-.24,0v-.008m-.24,0h.48M21,.157m-.24,.003h.48m-.24,0v-.006m-.24,0h.48M22,.157m-.24,.003h.48m-.24,0v-.006m-.24,0h.48M23,.155m-.24,.004h.48m-.24,0v-.008m-.24,0h.48M24,.154m-.24,.004h.48m-.24,0v-.008m-.24,0h.48M25,.149m-.24,.004h.48m-.24,0v-.008m-.24,0h.48M26,.158m-.24,.007h.48m-.24,0v-.014m-.24,0h.48M27,.150m-.24,.004h.48m-.24,0v-.008m-.24,0h.48M28,.150m-.24,.003h.48m-.24,0v-.006m-.24,0h.48M29,.148m-.24,.003h.48m-.24,0v-.006m-.24,0h.48M30,.143m-.24,.003h.48m-.24,0v-.006m-.24,0h.48"/>
<polyline class="ns" stroke="#f00" stroke-width="4.5" points="1,.203 2,.187 3,.182 4,.171 5,.169 6,.177 7,.181 8,.174 9,.171 10,.176 11,.175 12,.162 13,.167 14,.161 15,.159 16,.176 17,.173 18,.171 19,.162 20,.163 21,.177 22,.164 23,.154 24,.159 25,.162 26,.153 27,.163 28,.156 29,.146 30,.145"/>
<path class="ns" stroke="#f00" stroke-width="4" d="M1,.203m-.24,.01h.48m-.24,0v-.02m-.24,0h.48M2,.187m-.24,.009h.48m-.24,0v-.018m-.24,0h.48M3,.182m-.24,.008h.48m-.24,0v-.016m-.24,0h.48M4,.171m-.24,.01h.48m-.24,0v-.02m-.24,0h.48M5,.169m-.24,.01h.48m-.24,0v-.02m-.24,0h.48M6,.177m-.24,.011h.48m-.24,0v-.022m-.24,0h.48M7,.181m-.24,.008h.48m-.24,0v-.016m-.24,0h.48M8,.174m-.24,.01h.48m-.24,0v-.02m-.24,0h.48M9,.171m-.24,.01h.48m-.24,0v-.02m-.24,0h.48M10,.176m-.24,.011h.48m-.24,0v-.022m-.24,0h.48M11,.175m-.24,.01h.48m-.24,0v-.02m-.24,0h.48M12,.162m-.24,.01h.48m-.24,0v-.02m-.24,0h.48M13,.167m-.24,.01h.48m-.24,0v-.02m-.24,0h.48M14,.161m-.24,.011h.48m-.24,0v-.022m-.24,0h.48M15,.159m-.24,.009h.48m-.24,0v-.018m-.24,0h.48M16,.176m-.24,.01h.48m-.24,0v-.02m-.24,0h.48M17,.173m-.24,.011h.48m-.24,0v-.022m-.24,0h.48M18,.171m-.24,.011h.48m-.24,0v-.022m-.24,0h.48M19,.162m-.24,.01h.48m-.24,0v-.02m-.24,0h.48M20,.163m-.24,.008h.48m-.24,0v-.016m-.24,0h.48M21,.177m-.24,.007h.48m-.24,0v-.014m-.24,0h.48M22,.164m-.24,.01h.48m-.24,0v-.02m-.24,0h.48M23,.154m-.24,.012h.48m-.24,0v-.024m-.24,0h.48M24,.159m-.24,.009h.48m-.24,0v-.018m-.24,0h.48M25,.162m-.24,.011h.48m-.24,0v-.022m-.24,0h.48M26,.153m-.24,.007h.48m-.24,0v-.014m-.24,0h.48M27,.163m-.24,.006h.48m-.24,0v-.012m-.24,0h.48M28,.156m-.24,.009h.48m-.24,0v-.018m-.24,0h.48M29,.146m-.24,.008h.48m-.24,0v-.016m-.24,0h.48M30,.145m-.24,.008h.48m-.24,0v-.016m-.24,0h.48"/>
<polyline class="ns" stroke="#00f" stroke-width="4.5" points="1,.195 2,.159 3,.154 4,.151 5,.143 6,.144 7,.146 8,.138 9,.141 10,.139 11,.140 12,.139 13,.137 14,.138 15,.129 16,.130 17,.137 18,.132 19,.129 20,.125 21,.131 22,.131 23,.130 24,.133 25,.123 26,.122 27,.127 28,.129 29,.128 30,.124"/>
<path class="ns" stroke="#00f" stroke-width="4" d="M1,.195m-.24,.005h.48m-.24,0v-.01m-.24,0h.48M2,.159m-.24,.004h.48m-.24,0v-.008m-.24,0h.48M3,.154m-.24,.004h.48m-.24,0v-.008m-.24,0h.48M4,.151m-.24,.004h.48m-.24,0v-.008m-.24,0h.48M5,.143m-.24,.004h.48m-.24,0v-.008m-.24,0h.48M6,.144m-.24,.004h.48m-.24,0v-.008m-.24,0h.48M7,.146m-.24,.004h.48m-.24,0v-.008m-.24,0h.48M8,.138m-.24,.004h.48m-.24,0v-.008m-.24,0h.48M9,.141m-.24,.004h.48m-.24,0v-.008m-.24,0h.48M10,.139m-.24,.004h.48m-.24,0v-.008m-.24,0h.48M11,.140m-.24,.004h.48m-.24,0v-.008m-.24,0h.48M12,.139m-.24,.005h.48m-.24,0v-.01m-.24,0h.48M13,.137m-.24,.005h.48m-.24,0v-.01m-.24,0h.48M14,.138m-.24,.004h.48m-.24,0v-.008m-.24,0h.48M15,.129m-.24,.004h.48m-.24,0v-.008m-.24,0h.48M16,.130m-.24,.005h.48m-.24,0v-.01m-.24,0h.48M17,.137m-.24,.004h.48m-.24,0v-.008m-.24,0h.48M18,.132m-.24,.004h.48m-.24,0v-.008m-.24,0h.48M19,.129m-.24,.004h.48m-.24,0v-.008m-.24,0h.48M20,.125m-.24,.004h.48m-.24,0v-.008m-.24,0h.48M21,.131m-.24,.004h.48m-.24,0v-.008m-.24,0h.48M22,.131m-.24,.004h.48m-.24,0v-.008m-.24,0h.48M23,.130m-.24,.004h.48m-.24,0v-.008m-.24,0h.48M24,.133m-.24,.004h.48m-.24,0v-.008m-.24,0h.48M25,.123m-.24,.004h.48m-.24,0v-.008m-.24,0h.48M26,.122m-.24,.004h.48m-.24,0v-.008m-.24,0h.48M27,.127m-.24,.003h.48m-.24,0v-.006m-.24,0h.48M28,.129m-.24,.004h.48m-.24,0v-.008m-.24,0h.48M29,.128m-.24,.004h.48m-.24,0v-.008m-.24,0h.48M30,.124m-.24,.004h.48m-.24,0v-.008m-.24,0h.48"/>
</g>
<rect x="2203.5" y="2316.5" width="379" height="181" fill="#fff" stroke="#262626" stroke-width="2"/>
<path d="M2215,2349.4h93M2262,2327v45M2252,2327h20M2252,2372h20" stroke="#000" stroke-width="5" fill="none"/>
<path d="M2215,2408.3h93M2262,2386v45M2252,2386h20M2252,2431h20" stroke="#f00" stroke-width="5" fill="none"/>
<path d="M2215,2465.2h93M2262,2443v45M2252,2443h20M2252,2488h20" stroke="#00f" stroke-width="5" fill="none"/>
<g class="t"><text x="2316" y="2365">Wildtype</text><text x="2316" y="2424">egl-21(n476)</text><text x="2316" y="2481">egl-3(ok979)</text></g>

<!-- ================= I ================= -->
<text class="let" x="2693" y="2340">I</text>
<text class="ttl" x="3405" y="2281" text-anchor="middle">Mean Decrement of the First Second</text>
<rect x="2932" y="2504.1" width="270.5" height="559.5" fill="#0072BD" stroke="#1a1a1a" stroke-width="2"/>
<rect x="3269.7" y="2859.1" width="270.3" height="204.5" fill="#0072BD" stroke="#1a1a1a" stroke-width="2"/>
<rect x="3607" y="2805.1" width="270.4" height="258.5" fill="#0072BD" stroke="#1a1a1a" stroke-width="2"/>
<path d="M3067,2450V2562M3057,2450h20M3057,2562h20M3405,2820V2897M3395,2820h20M3395,2897h20M3742,2766V2843M3732,2766h20M3732,2843h20" stroke="#000" stroke-width="2" fill="none"/>
<rect class="ax" x="2899" y="2291.9" width="1011.6" height="771.7"/>
<path class="ax" d="M2899,2870.7h12M3910.6,2870.7h-12M2899,2677.8h12M3910.6,2677.8h-12M2899,2484.8h12M3910.6,2484.8h-12M3067,3063.6v-12M3067,2291.9v12M3405,3063.6v-12M3405,2291.9v12M3742,3063.6v-12M3742,2291.9v12"/>
<g class="t" text-anchor="end"><text x="2883" y="3080">0</text><text x="2883" y="2887">0.05</text><text x="2883" y="2694">0.1</text><text x="2883" y="2501">0.15</text><text x="2883" y="2308">0.2</text></g>
<g class="t" text-anchor="middle"><text x="3067" y="3128">Wildtype</text><text x="3405" y="3128">egl-21(n476)</text><text x="3742" y="3128">egl-3(ok979)</text></g>
<text class="lab" x="3405" y="3193" text-anchor="middle">Strains</text>
<text class="lab" transform="translate(2754,2677) rotate(-90)" text-anchor="middle" dominant-baseline="central">Mean Decrement (mm/s)</text>
<path d="M3073,2434V2420H3414.8V2434M3081,2374V2360H3736.5V2374" stroke="#595959" stroke-width="9" fill="none"/>
<g font-size="96" font-weight="bold" fill="#595959" text-anchor="middle"><text x="3243" y="2440">***</text><text x="3409" y="2366">***</text></g>
</svg>
</body></html>
